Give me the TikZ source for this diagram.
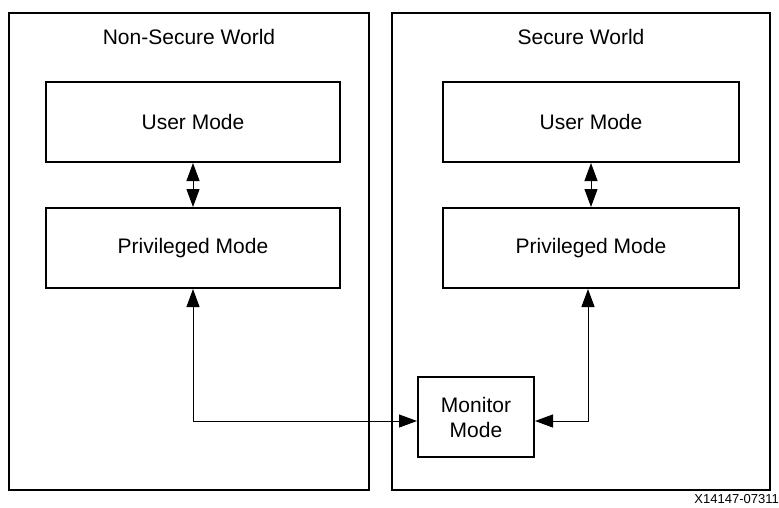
\documentclass[tikz,border=0pt]{standalone}
\usepackage{fontspec}
\setmainfont{Liberation Sans}
\usetikzlibrary{arrows.meta}
\begin{document}
\begin{tikzpicture}[x=1pt,y=-1pt,
  world/.style={draw, line width=2pt, minimum width=#1, minimum height=477pt, inner sep=0pt},
  modebox/.style={draw, line width=2pt, minimum height=80pt, inner sep=0pt,
     font=\fontsize{21}{25}\selectfont},
  ttl/.style={font=\fontsize{21}{25}\selectfont, inner sep=0pt},
  link/.style={line width=1pt, {Triangle[length=18pt,width=13pt]}-{Triangle[length=18pt,width=13pt]}}
]
\useasboundingbox (0,0) rectangle (779,507);
\node[world=360pt] (ns) at (189,251.5) {};
\node[world=378pt] (s) at (581,251.5) {};
\node[ttl] (nst) at (189,37) {Non-Secure World};
\node[ttl] (st) at (581,37) {Secure World};
\node[modebox, minimum width=294pt] (uml) at (193,122) {User Mode};
\node[modebox, minimum width=294pt] (pml) at (193,248) {Privileged Mode};
\node[modebox, minimum width=296pt] (umr) at (591,122) {User Mode};
\node[modebox, minimum width=296pt] (pmr) at (591,248) {Privileged Mode};
\node[modebox, minimum width=116pt, align=center] (mon) at (476,417) {Monitor\\Mode};
\draw[link] (uml.south) -- (pml.north);
\draw[link] (umr.south) -- (pmr.north);
\draw[link] (pml.south) |- ([yshift=-4pt]mon.west);
\draw[link] ([xshift=-3pt]pmr.south) |- ([yshift=-4pt]mon.east);
\node[anchor=east, inner sep=0pt, font=\fontsize{13}{15}\selectfont] (lbl) at (779,499) {X14147-07311};
\end{tikzpicture}
\end{document}
